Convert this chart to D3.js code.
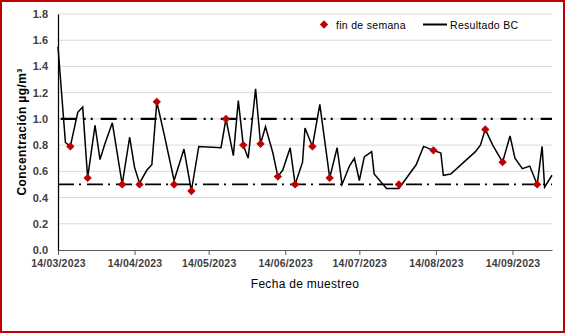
<!DOCTYPE html>
<html>
<head>
<meta charset="utf-8">
<script src="https://cdn.jsdelivr.net/npm/d3@7"></script>
<style>
  body { margin: 0; background: #fff; }
  svg { display: block; }
  text { font-family: "Liberation Sans", Arial, sans-serif; }
</style>
</head>
<body>
<div id="svgOutput"></div>
<script>
// Data

const sampleDates = [
  "2023-03-14", "2023-03-17", "2023-03-19", "2023-03-22", "2023-03-24", "2023-03-26", "2023-03-29", "2023-03-31",
  "2023-04-02", "2023-04-05", "2023-04-09", "2023-04-12", "2023-04-14", "2023-04-16", "2023-04-19", "2023-04-21",
  "2023-04-23", "2023-04-26", "2023-04-30", "2023-05-04", "2023-05-07", "2023-05-10", "2023-05-19", "2023-05-21",
  "2023-05-24", "2023-05-26", "2023-05-28", "2023-05-30", "2023-06-02", "2023-06-04", "2023-06-06", "2023-06-09",
  "2023-06-11", "2023-06-13", "2023-06-16", "2023-06-18", "2023-06-21", "2023-06-22", "2023-06-25", "2023-06-28",
  "2023-07-02", "2023-07-05", "2023-07-07", "2023-07-10", "2023-07-12", "2023-07-14", "2023-07-16", "2023-07-19",
  "2023-07-20", "2023-07-25", "2023-07-30", "2023-08-06", "2023-08-09", "2023-08-13", "2023-08-16", "2023-08-17",
  "2023-08-20", "2023-08-30", "2023-09-01", "2023-09-03", "2023-09-06", "2023-09-10", "2023-09-13", "2023-09-15",
  "2023-09-18", "2023-09-21", "2023-09-24", "2023-09-26", "2023-09-27", "2023-09-30"
];

const bcValues = [
  1.55, 0.82, 0.79, 1.05, 1.09, 0.55, 0.95, 0.69,
  0.81, 0.97, 0.50, 0.86, 0.63, 0.51, 0.61, 0.65,
  1.13, 0.88, 0.53, 0.77, 0.45, 0.79, 0.78, 1.00,
  0.72, 1.14, 0.80, 0.70, 1.23, 0.81, 0.94, 0.74,
  0.56, 0.61, 0.78, 0.50, 0.67, 0.93, 0.79, 1.11,
  0.55, 0.78, 0.50, 0.64, 0.70, 0.53, 0.71, 0.75,
  0.58, 0.47, 0.47, 0.65, 0.79, 0.76, 0.74, 0.57,
  0.58, 0.75, 0.80, 0.92, 0.80, 0.67, 0.87, 0.70,
  0.62, 0.64, 0.50, 0.79, 0.48, 0.57
];

const weekendDates = [
  "2023-03-19", "2023-03-26", "2023-04-09", "2023-04-16", "2023-04-23", "2023-04-30", "2023-05-07",
  "2023-05-21", "2023-05-28", "2023-06-04", "2023-06-11", "2023-06-18", "2023-06-25", "2023-07-02",
  "2023-07-30", "2023-08-13", "2023-09-03", "2023-09-10", "2023-09-24"
];

const weekendValues = [
  0.79, 0.55, 0.50, 0.50, 1.13, 0.50, 0.45,
  1.00, 0.80, 0.81, 0.56, 0.50, 0.79, 0.55,
  0.50, 0.76, 0.92, 0.67, 0.50
];

const xTickDates = ["2023-03-14", "2023-04-14", "2023-05-14", "2023-06-14", "2023-07-14", "2023-08-14", "2023-09-14"];
const xDomain = ["2023-03-14", "2023-09-30"];
const yTicks = [0, 0.2, 0.4, 0.6, 0.8, 1.0, 1.2, 1.4, 1.6, 1.8];
const limitValues = [1.0, 0.5];

// Config

const width = 567;
const height = 334;
const margin = {
  "top": 14,
  "bottom": 84,
  "left": 58,
  "right": 15
}
const red = "#c00000";

const parse = d3.timeParse("%Y-%m-%d");
const fmt = d3.timeFormat("%d/%m/%Y");

const svg = d3.select("#svgOutput")
  .append("svg")
  .attr("width", width)
  .attr("height", height);

svg.append("rect")
  .attr("x", 1).attr("y", 1)
  .attr("width", 563).attr("height", 331)
  .attr("fill", "#fff")
  .attr("stroke", red)
  .attr("stroke-width", 2);

// Scales

const xScale = d3.scaleTime()
  .domain(xDomain.map(parse))
  .range([margin.left, width - margin.right]);

const yScale = d3.scaleLinear()
  .domain([0, 1.8])
  .range([height - margin.bottom, margin.top]);

// Gridlines

svg.append("g")
  .selectAll("line")
  .data(yTicks.slice(1))
  .join("line")
  .attr("x1", margin.left)
  .attr("x2", width - margin.right)
  .attr("y1", d => yScale(d))
  .attr("y2", d => yScale(d))
  .attr("stroke", "#d9d9d9")
  .attr("stroke-width", 1);

// Axes

const xAxis = d3.axisBottom(xScale)
  .tickValues(xTickDates.map(parse))
  .tickFormat(fmt)
  .tickSize(5)
  .tickSizeOuter(0);

const gx = svg.append("g")
  .attr("transform", "translate(0, " + (height - margin.bottom) + ")")
  .call(xAxis);

gx.select(".domain").attr("stroke", "#595959").attr("stroke-width", 1);
gx.selectAll(".tick line").attr("stroke", "#595959");
gx.selectAll(".tick text")
  .attr("dy", "9")
  .attr("fill", "#404040")
  .style("font-size", "10.5px")
  .style("font-weight", "bold")
  .style("letter-spacing", "0.2px");

const yAxis = d3.axisLeft(yScale)
  .tickValues(yTicks)
  .tickFormat(d3.format(".1f"))
  .tickSize(0)
  .tickPadding(10);

const gy = svg.append("g")
  .attr("transform", "translate(" + margin.left + ", 0)")
  .call(yAxis);

gy.select(".domain").attr("stroke", "#000").attr("stroke-width", 1.25);
gy.selectAll(".tick text")
  .attr("fill", "#404040")
  .style("font-size", "11px")
  .style("font-weight", "bold");

// Axis titles

svg.append("text")
  .attr("transform", "translate(26, " + yScale(0.9) + ") rotate(-90)")
  .attr("text-anchor", "middle")
  .attr("fill", "#000")
  .style("font-size", "12px")
  .style("font-weight", "bold")
  .style("letter-spacing", "0.4px")
  .text("Concentración µg/m³");

svg.append("text")
  .attr("x", 305)
  .attr("y", 288)
  .attr("text-anchor", "middle")
  .attr("fill", "#000")
  .style("font-size", "12px")
  .style("letter-spacing", "0.3px")
  .text("Fecha de muestreo");

// Limit lines

const limitStyles = [
  { dash: "16,7,2,5,2,8", width: 2.25, offset: -2.7 },
  { dash: "16,5,2,6", width: 1.75, offset: 0 }
];

svg.append("g")
  .selectAll("line")
  .data(limitValues)
  .join("line")
  .attr("x1", margin.left)
  .attr("x2", width - margin.right)
  .attr("y1", d => yScale(d))
  .attr("y2", d => yScale(d))
  .attr("stroke", "#000")
  .attr("stroke-width", (d, i) => limitStyles[i].width)
  .attr("stroke-dasharray", (d, i) => limitStyles[i].dash)
  .attr("stroke-dashoffset", (d, i) => limitStyles[i].offset);

// BC line

const bcData = sampleDates.map((d, i) => ({ date: parse(d), value: bcValues[i] }));

const line = d3.line()
  .x(d => xScale(d.date))
  .y(d => yScale(d.value));

svg.append("path")
  .datum(bcData)
  .attr("d", line)
  .attr("fill", "none")
  .attr("stroke", "#000")
  .attr("stroke-width", 1.5)
  .attr("stroke-linejoin", "miter");

// Weekend markers

const weekendData = weekendDates.map((d, i) => ({ date: parse(d), value: weekendValues[i] }));
const diamond = d3.symbol().type(d3.symbolSquare).size(24);

svg.append("g")
  .selectAll("path")
  .data(weekendData)
  .join("path")
  .attr("d", diamond)
  .attr("transform", d => "translate(" + xScale(d.date) + "," + yScale(d.value) + ") rotate(45)")
  .attr("fill", red)
  .attr("stroke", red)
  .attr("stroke-width", 1);

// Legend

const legend = svg.append("g");

legend.append("path")
  .attr("d", diamond)
  .attr("transform", "translate(324, 24.5) rotate(45)")
  .attr("fill", red)
  .attr("stroke", red);

legend.append("text")
  .attr("x", 336)
  .attr("y", 28.5)
  .attr("fill", "#000")
  .style("font-size", "10.5px")
  .style("letter-spacing", "0.3px")
  .text("fin de semana");

legend.append("line")
  .attr("x1", 423)
  .attr("x2", 447)
  .attr("y1", 24.5)
  .attr("y2", 24.5)
  .attr("stroke", "#000")
  .attr("stroke-width", 2);

legend.append("text")
  .attr("x", 450)
  .attr("y", 28.5)
  .attr("fill", "#000")
  .style("font-size", "10.5px")
  .style("letter-spacing", "0.3px")
  .text("Resultado BC");
</script>
</body>
</html>
